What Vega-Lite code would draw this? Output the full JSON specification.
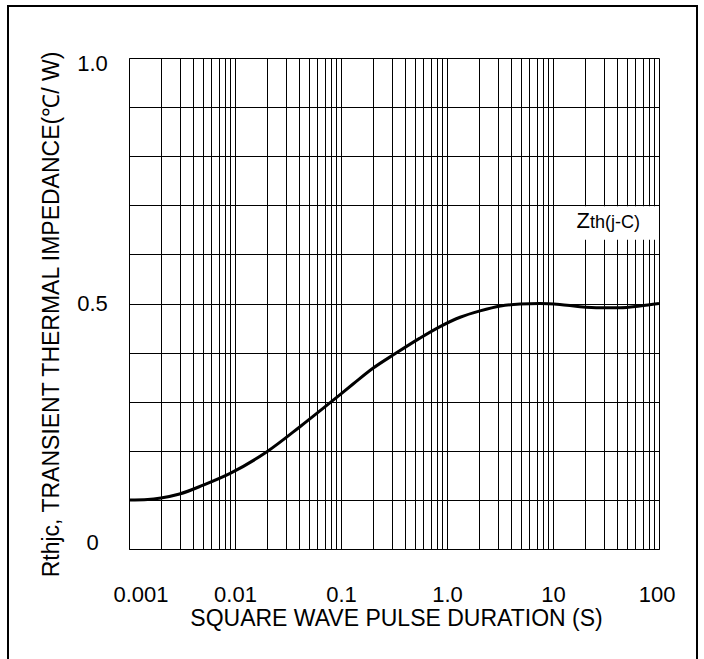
{
  "$schema": "https://vega.github.io/schema/vega-lite/v6.json",
  "autosize": {"type": "none"},
  "padding": {"left": 8, "top": 6, "right": 7, "bottom": -2},
  "width": 689,
  "height": 655,
  "background": "white",
  "config": {
    "font": "Liberation Sans",
    "view": {"stroke": "black", "strokeWidth": 2, "fill": "white"},
    "axis": {
      "labelColor": "black",
      "titleColor": "black",
      "gridColor": "black",
      "gridOpacity": 1,
      "gridWidth": 1,
      "domainColor": "black",
      "domainWidth": 1,
      "ticks": false,
      "tickSize": 0,
      "labelFont": "Liberation Sans",
      "titleFont": "Liberation Sans",
      "titleFontWeight": "normal"
    }
  },
  "resolve": {"axis": {"x": "independent"}},
  "layer": [
    {
      "data": {"values": [{}]},
      "mark": {"type": "rect", "color": "white"},
      "encoding": {
        "x": {"datum": 11, "type": "quantitative", "scale": {"type": "log", "domain": [0.001, 100], "range": [121, 651], "nice": false}, "axis": null},
        "x2": {"datum": 95},
        "y": {"datum": 0.63, "type": "quantitative", "scale": {"domain": [0, 1], "range": [543, 52], "nice": false, "zero": false}},
        "y2": {"datum": 0.698}
      }
    },
    {
      "data": {"values": [
        {"t": 0.001, "z": 0.100},
        {"t": 0.0015, "z": 0.101},
        {"t": 0.002, "z": 0.104},
        {"t": 0.003, "z": 0.112},
        {"t": 0.005, "z": 0.130},
        {"t": 0.009, "z": 0.154},
        {"t": 0.02, "z": 0.198},
        {"t": 0.041, "z": 0.249},
        {"t": 0.079, "z": 0.298},
        {"t": 0.13, "z": 0.336},
        {"t": 0.2, "z": 0.368},
        {"t": 0.32, "z": 0.397},
        {"t": 0.55, "z": 0.429},
        {"t": 0.86, "z": 0.453},
        {"t": 1.33, "z": 0.472},
        {"t": 2.05, "z": 0.485},
        {"t": 3.2, "z": 0.495},
        {"t": 4.9, "z": 0.499},
        {"t": 7.5, "z": 0.500},
        {"t": 11.6, "z": 0.498},
        {"t": 18, "z": 0.4935},
        {"t": 28, "z": 0.4915},
        {"t": 43, "z": 0.4915},
        {"t": 66, "z": 0.495},
        {"t": 100, "z": 0.500}
      ]},
      "mark": {"type": "line", "color": "black", "strokeWidth": 3, "interpolate": "monotone"},
      "encoding": {
        "x": {
          "field": "t", "type": "quantitative",
          "scale": {"type": "log", "domain": [0.001, 100], "range": [121, 651], "nice": false},
          "axis": {
            "orient": "top",
            "grid": true,
            "labels": false,
            "ticks": false,
            "domain": false,
            "title": null,
            "values": [0.001,0.002,0.003,0.004,0.005,0.006,0.007,0.008,0.009,0.01,0.02,0.03,0.04,0.05,0.06,0.07,0.08,0.09,0.1,0.2,0.3,0.4,0.5,0.6,0.7,0.8,0.9,1,2,3,4,5,6,7,8,9,10,20,30,40,50,60,70,80,90,100]
          }
        },
        "y": {
          "field": "z", "type": "quantitative",
          "scale": {"domain": [0, 1], "range": [543, 52], "nice": false, "zero": false},
          "axis": {
            "orient": "left",
            "offset": -121,
            "grid": true,
            "domain": true,
            "values": [0, 0.1, 0.2, 0.3, 0.4, 0.5, 0.6, 0.7, 0.8, 0.9, 1],
            "labelExpr": "datum.value == 0 ? '0' : datum.value == 0.5 ? '0.5' : datum.value == 1 ? '1.0' : ''",
            "labelFontSize": 22,
            "labelAlign": "center",
            "labelPadding": 37,
            "labelFlush": true,
            "labelFlushOffset": 5,
            "labelOverlap": false,
            "title": "Rthjc, TRANSIENT THERMAL IMPEDANCE(℃/ W)",
            "titleFontSize": 23,
            "titleAngle": 270,
            "titleBaseline": "alphabetic",
            "titleAlign": "center",
            "titleX": -71,
            "titleY": 308
          }
        }
      }
    },
    {
      "data": {"values": [{}]},
      "mark": {"type": "text", "text": "Z", "fontSize": 22, "align": "right", "baseline": "alphabetic", "color": "black", "font": "Liberation Sans"},
      "encoding": {
        "x": {
          "datum": 22.3, "type": "quantitative",
          "scale": {"type": "log", "domain": [0.001, 100], "range": [121, 651], "nice": false},
          "axis": {
            "orient": "bottom",
            "offset": -112,
            "grid": false,
            "domain": true,
            "ticks": false,
            "values": [0.001, 0.01, 0.1, 1, 10, 100],
            "labelExpr": "datum.value == 1 ? '1.0' : datum.value == 0.001 ? '0.001' : datum.value == 0.01 ? '0.01' : datum.value == 0.1 ? '0.1' : datum.value == 10 ? '10' : '100'",
            "labelFontSize": 22,
            "labelFlush": true,
            "labelFlushOffset": 16,
            "labelBaseline": "alphabetic",
            "labelPadding": 52,
            "labelOverlap": false,
            "title": "SQUARE WAVE PULSE DURATION (S)",
            "titleFontSize": 23,
            "titleBaseline": "alphabetic",
            "titleAlign": "center",
            "titleX": 388,
            "titleY": 76
          }
        },
        "y": {"datum": 0.653, "type": "quantitative"}
      }
    },
    {
      "data": {"values": [{}]},
      "mark": {"type": "text", "text": "th(j-C)", "fontSize": 18, "align": "left", "baseline": "alphabetic", "color": "black", "font": "Liberation Sans"},
      "encoding": {
        "x": {"datum": 22.3, "type": "quantitative", "axis": null},
        "y": {"datum": 0.653, "type": "quantitative"}
      }
    }
  ]
}
